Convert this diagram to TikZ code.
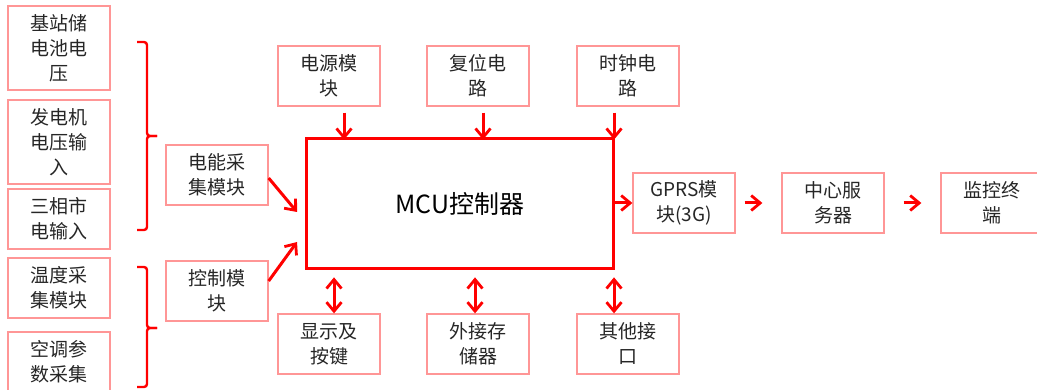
\documentclass[tikz,border=0pt]{standalone}
\usepackage{fontspec}
\setmainfont{Noto Sans CJK SC}
\usetikzlibrary{arrows.meta,calc}
\definecolor{boxred}{RGB}{255,150,150}
\definecolor{arrred}{RGB}{255,0,0}
\begin{document}
\begin{tikzpicture}[x=1pt,y=-1pt,
  box/.style={draw=boxred,line width=1.3pt,minimum width=102pt,minimum height=60pt,
    align=center,inner sep=0pt,font=\fontsize{19}{25}\selectfont,text=black!85},
  tip/.style={},
  arr/.style={draw=arrred,line width=3pt,-{Straight Barb[length=9pt,width=15pt,line width=2.8pt]}},
  darr/.style={draw=arrred,line width=3pt,{Straight Barb[length=9pt,width=15pt,line width=2.8pt]}-{Straight Barb[length=9pt,width=15pt,line width=2.8pt]}},
  brace/.style={draw=arrred,line width=2.4pt,rounded corners=3pt}]
\useasboundingbox (0,0) rectangle (1037,390);
% left column
\node[box,minimum height=84pt] (l1) at (59,48) {基站储\\电池电\\压};
\node[box,minimum height=84pt] (l2) at (59,142) {发电机\\电压输\\入};
\node[box] (l3) at (59,219) {三相市\\电输入};
\node[box] (l4) at (59,288) {温度采\\集模块};
\node[box] (l5) at (59,362) {空调参\\数采集};
% braces
\draw[brace] (137,42) -- (147,42) -- (147,136) -- (157,136);
\draw[brace] (157,136) -- (147,136) -- (147,230) -- (137,230);
\draw[brace] (137,267) -- (147,267) -- (147,328) -- (157,328);
\draw[brace] (157,328) -- (147,328) -- (147,387) -- (137,387);
% middle left
\node[box] (ecol) at (217,175) {电能采\\集模块};
\node[box] (ctrl) at (217,291) {控制模\\块};
% MCU
\node[draw=arrred,line width=3pt,minimum width=307pt,minimum height=130pt,inner sep=0pt,
  font=\fontsize{25}{28}\selectfont] (mcu) at (460,204) {MCU控制器};
% top
\node[box] (pwr) at (329,76) {电源模\\块};
\node[box] (rst) at (478,76) {复位电\\路};
\node[box] (clk) at (628,76) {时钟电\\路};
% bottom
\node[box] (disp) at (329,344) {显示及\\按键};
\node[box] (mem) at (478,344) {外接存\\储器};
\node[box] (oth) at (628,344) {其他接\\口};
% right
\node[box] (gprs) at (684,203) {GPRS模\\块(3G)};
\node[box] (srv) at (833,203) {中心服\\务器};
\node[box] (mon) at (992,203) {监控终\\端};
% arrows
\draw[arr] ($(pwr.south)+(15,6)$) -- ($(pwr.south)+(15,33)$);
\draw[arr] ($(rst.south)+(5,6)$) -- ($(rst.south)+(5,33)$);
\draw[arr] ($(clk.south)+(-14,6)$) -- ($(clk.south)+(-14,33)$);
\draw[darr] ($(disp.north)+(5,-36)$) -- ($(disp.north)+(5,0)$);
\draw[darr] ($(mem.north)+(-3,-36)$) -- ($(mem.north)+(-3,0)$);
\draw[darr] ($(oth.north)+(-14,-36)$) -- ($(oth.north)+(-14,0)$);
\draw[arr] ($(ecol.east)+(0,3)$) -- ($(mcu.west)+(-8,8)$);
\draw[arr] ($(ctrl.east)+(0,-10)$) -- ($(mcu.west)+(-8,38)$);
\draw[arr] (mcu.east |- gprs.west) -- (gprs.west);
\draw[arr] ($(gprs.east)+(9,0)$) -- ($(srv.west)+(-19,0)$);
\draw[arr] ($(srv.east)+(19,0)$) -- ($(mon.west)+(-19,0)$);
\end{tikzpicture}
\end{document}
